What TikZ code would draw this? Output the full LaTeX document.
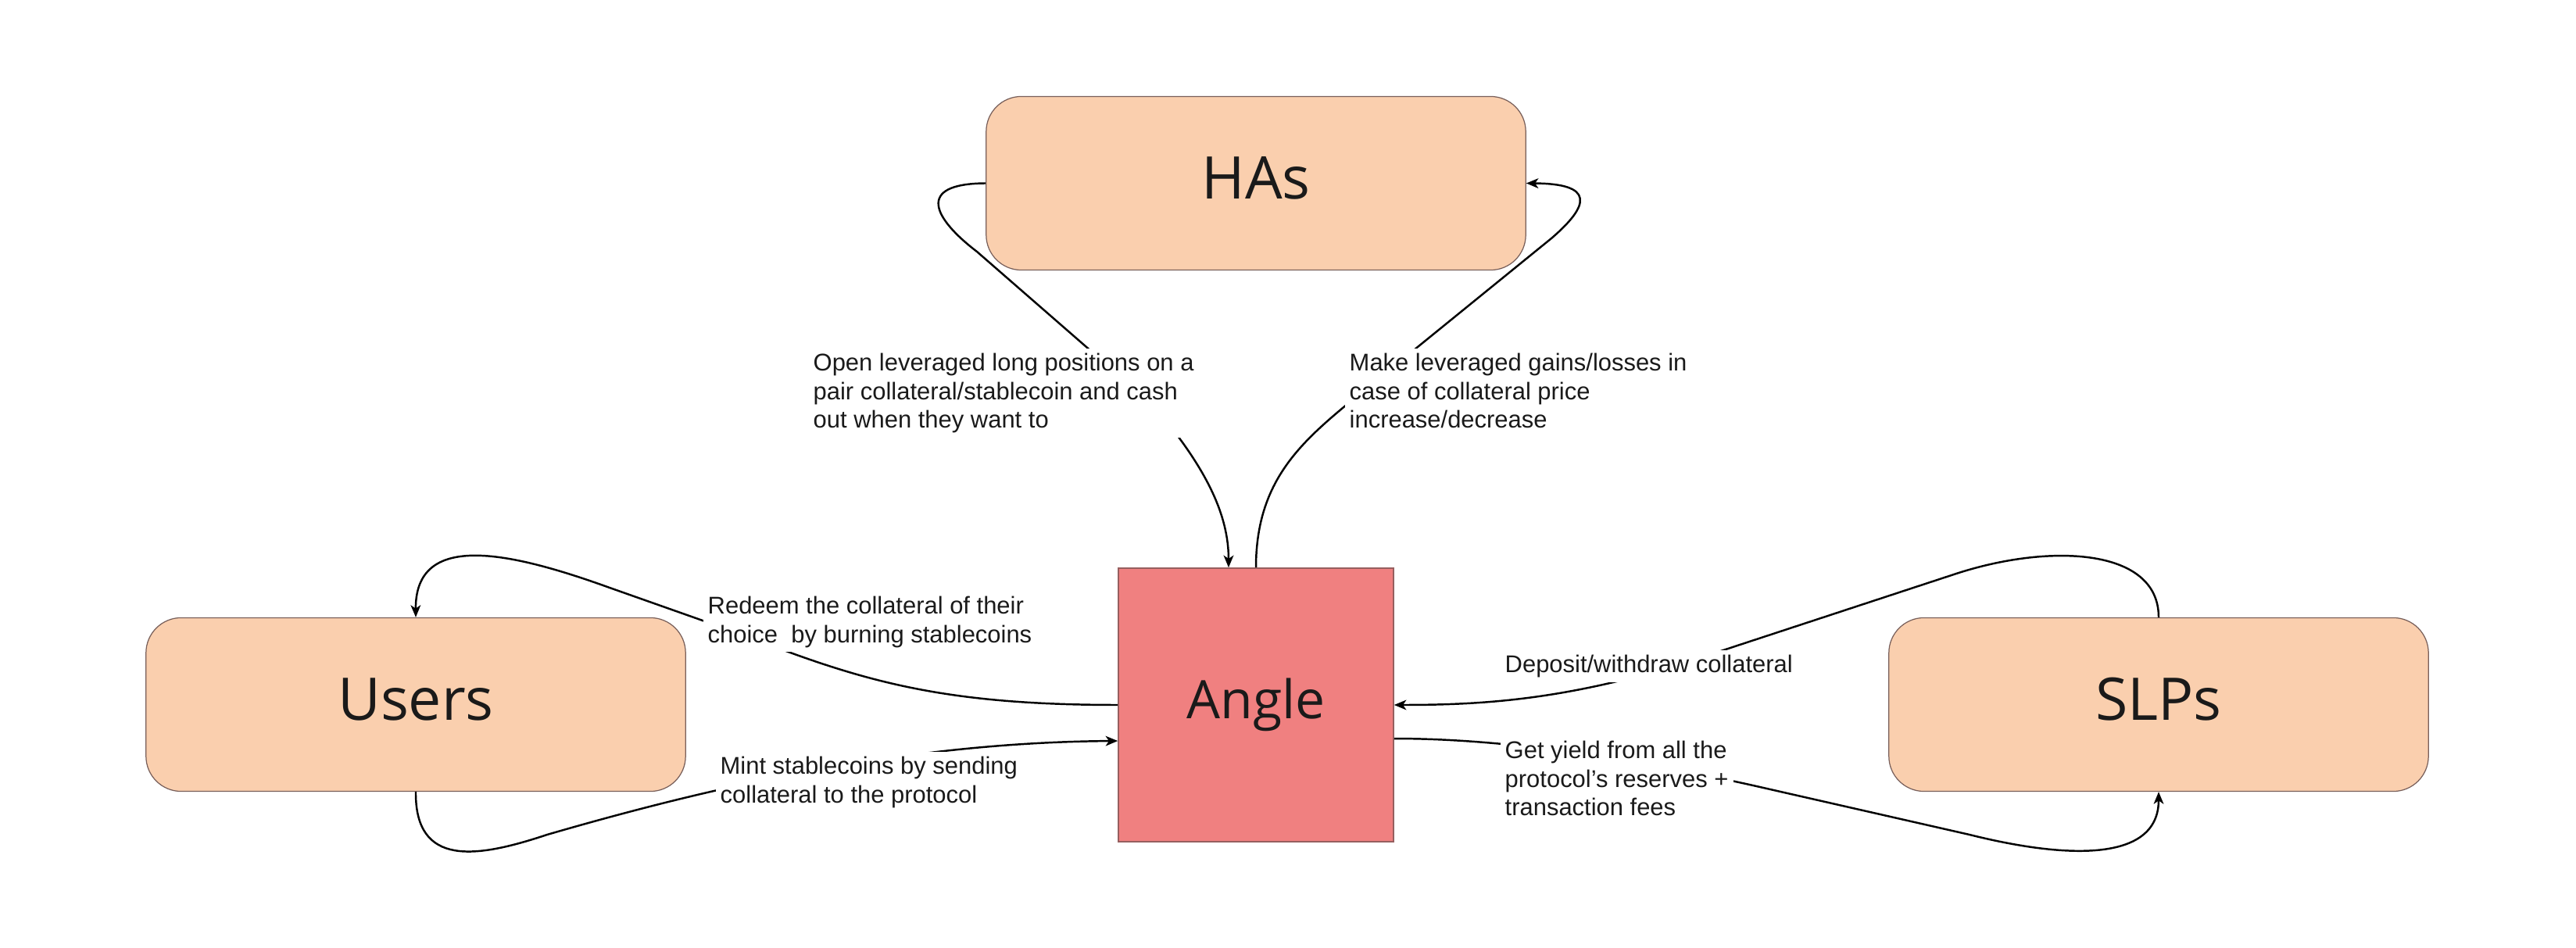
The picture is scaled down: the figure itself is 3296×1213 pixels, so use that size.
\documentclass[tikz,border=0pt]{standalone}
\usepackage{fontspec}
\setmainfont{Liberation Sans}
\newfontfamily\boxfont{Open Sans}
\usetikzlibrary{arrows.meta}
\definecolor{peach}{RGB}{250,207,174}
\definecolor{coral}{RGB}{240,128,128}
\definecolor{edgegray}{RGB}{120,95,90}
\definecolor{coraledge}{RGB}{150,95,95}
\definecolor{ink}{RGB}{26,26,26}
\begin{document}
\begin{tikzpicture}[x=0.01cm,y=-0.01cm,
  actor/.style={draw=edgegray, line width=0.35pt, fill=peach, rounded corners=0.45cm,
    minimum width=6.9cm, minimum height=2.22cm, inner sep=0, text=ink,
    font=\boxfont\fontsize{21.4pt}{25pt}\selectfont, text height=16.3pt, text depth=5.1pt},
  core/.style={draw=coraledge, line width=0.4pt, fill=coral,
    minimum width=3.52cm, minimum height=3.5cm, inner sep=0, text=ink,
    font=\boxfont\fontsize{19.3pt}{23pt}\selectfont, text height=14.7pt, text depth=4.6pt},
  lbl/.style={font=\fontsize{8.8pt}{10.5pt}\selectfont, align=left, anchor=north west,
    fill=white, inner sep=0.06cm, text=ink},
  flow/.style={line width=0.7pt, -{Stealth[length=4.4pt,width=3.6pt,inset=1.2pt]}}
]
\useasboundingbox (0,0) rectangle (3296,1213);

\node[actor] (has) at (1607,234.5) {HAs};
\node[actor] (users) at (532,901.5) {Users};
\node[actor] (slps) at (2762,901.5) {SLPs};
\node[core] (angle) at (1607,902) {Angle};

% connectors
\draw[flow] (has.west) .. controls (1170,235) and (1195,280) .. (1250,322)
  -- (1475,518) .. controls (1545,600) and (1572,660) .. ([xshift=-0.35cm]angle.north);
\draw[flow] (angle.north) .. controls (1607,620) and (1660,570) .. (1724,517)
  -- (1985,305) .. controls (2035,262) and (2040,235) .. (has.east);
\draw[flow] (angle.west) .. controls (1200,902) and (1100,870) .. (950,812)
  -- (780,752) .. controls (650,705) and (531,680) .. (users.north);
\draw[flow] (users.south) .. controls (531,1110) and (610,1098) .. (700,1068)
  .. controls (900,1010) and (1150,950) .. ([yshift=-0.46cm]angle.west);
\draw[flow] (slps.north) .. controls (2762,700) and (2620,695) .. (2500,735)
  -- (2150,850) .. controls (2000,895) and (1900,902) .. (angle.east);
\draw[flow] ([yshift=-0.43cm]angle.east) .. controls (1900,945) and (2050,962) .. (2243,1005)
  -- (2520,1068) .. controls (2640,1098) and (2762,1105) .. (slps.south);

% labels
\node[lbl] (l1) at (1034,445) {Open leveraged long positions on a\\pair collateral/stablecoin and cash\\out when they want to};
\node[lbl] (l2) at (1720,445) {Make leveraged gains/losses in\\case of collateral price\\increase/decrease};
\node[lbl] (l3) at (899,756) {Redeem the collateral of their\\choice\ \ by burning stablecoins};
\node[lbl] (l4) at (915,961) {Mint stablecoins by sending\\collateral to the protocol};
\node[lbl] (l5) at (1919,831) {Deposit/withdraw collateral};
\node[lbl] (l6) at (1919,941) {Get yield from all the\\protocol{\char"27}s reserves +\\transaction fees};
\end{tikzpicture}
\end{document}
